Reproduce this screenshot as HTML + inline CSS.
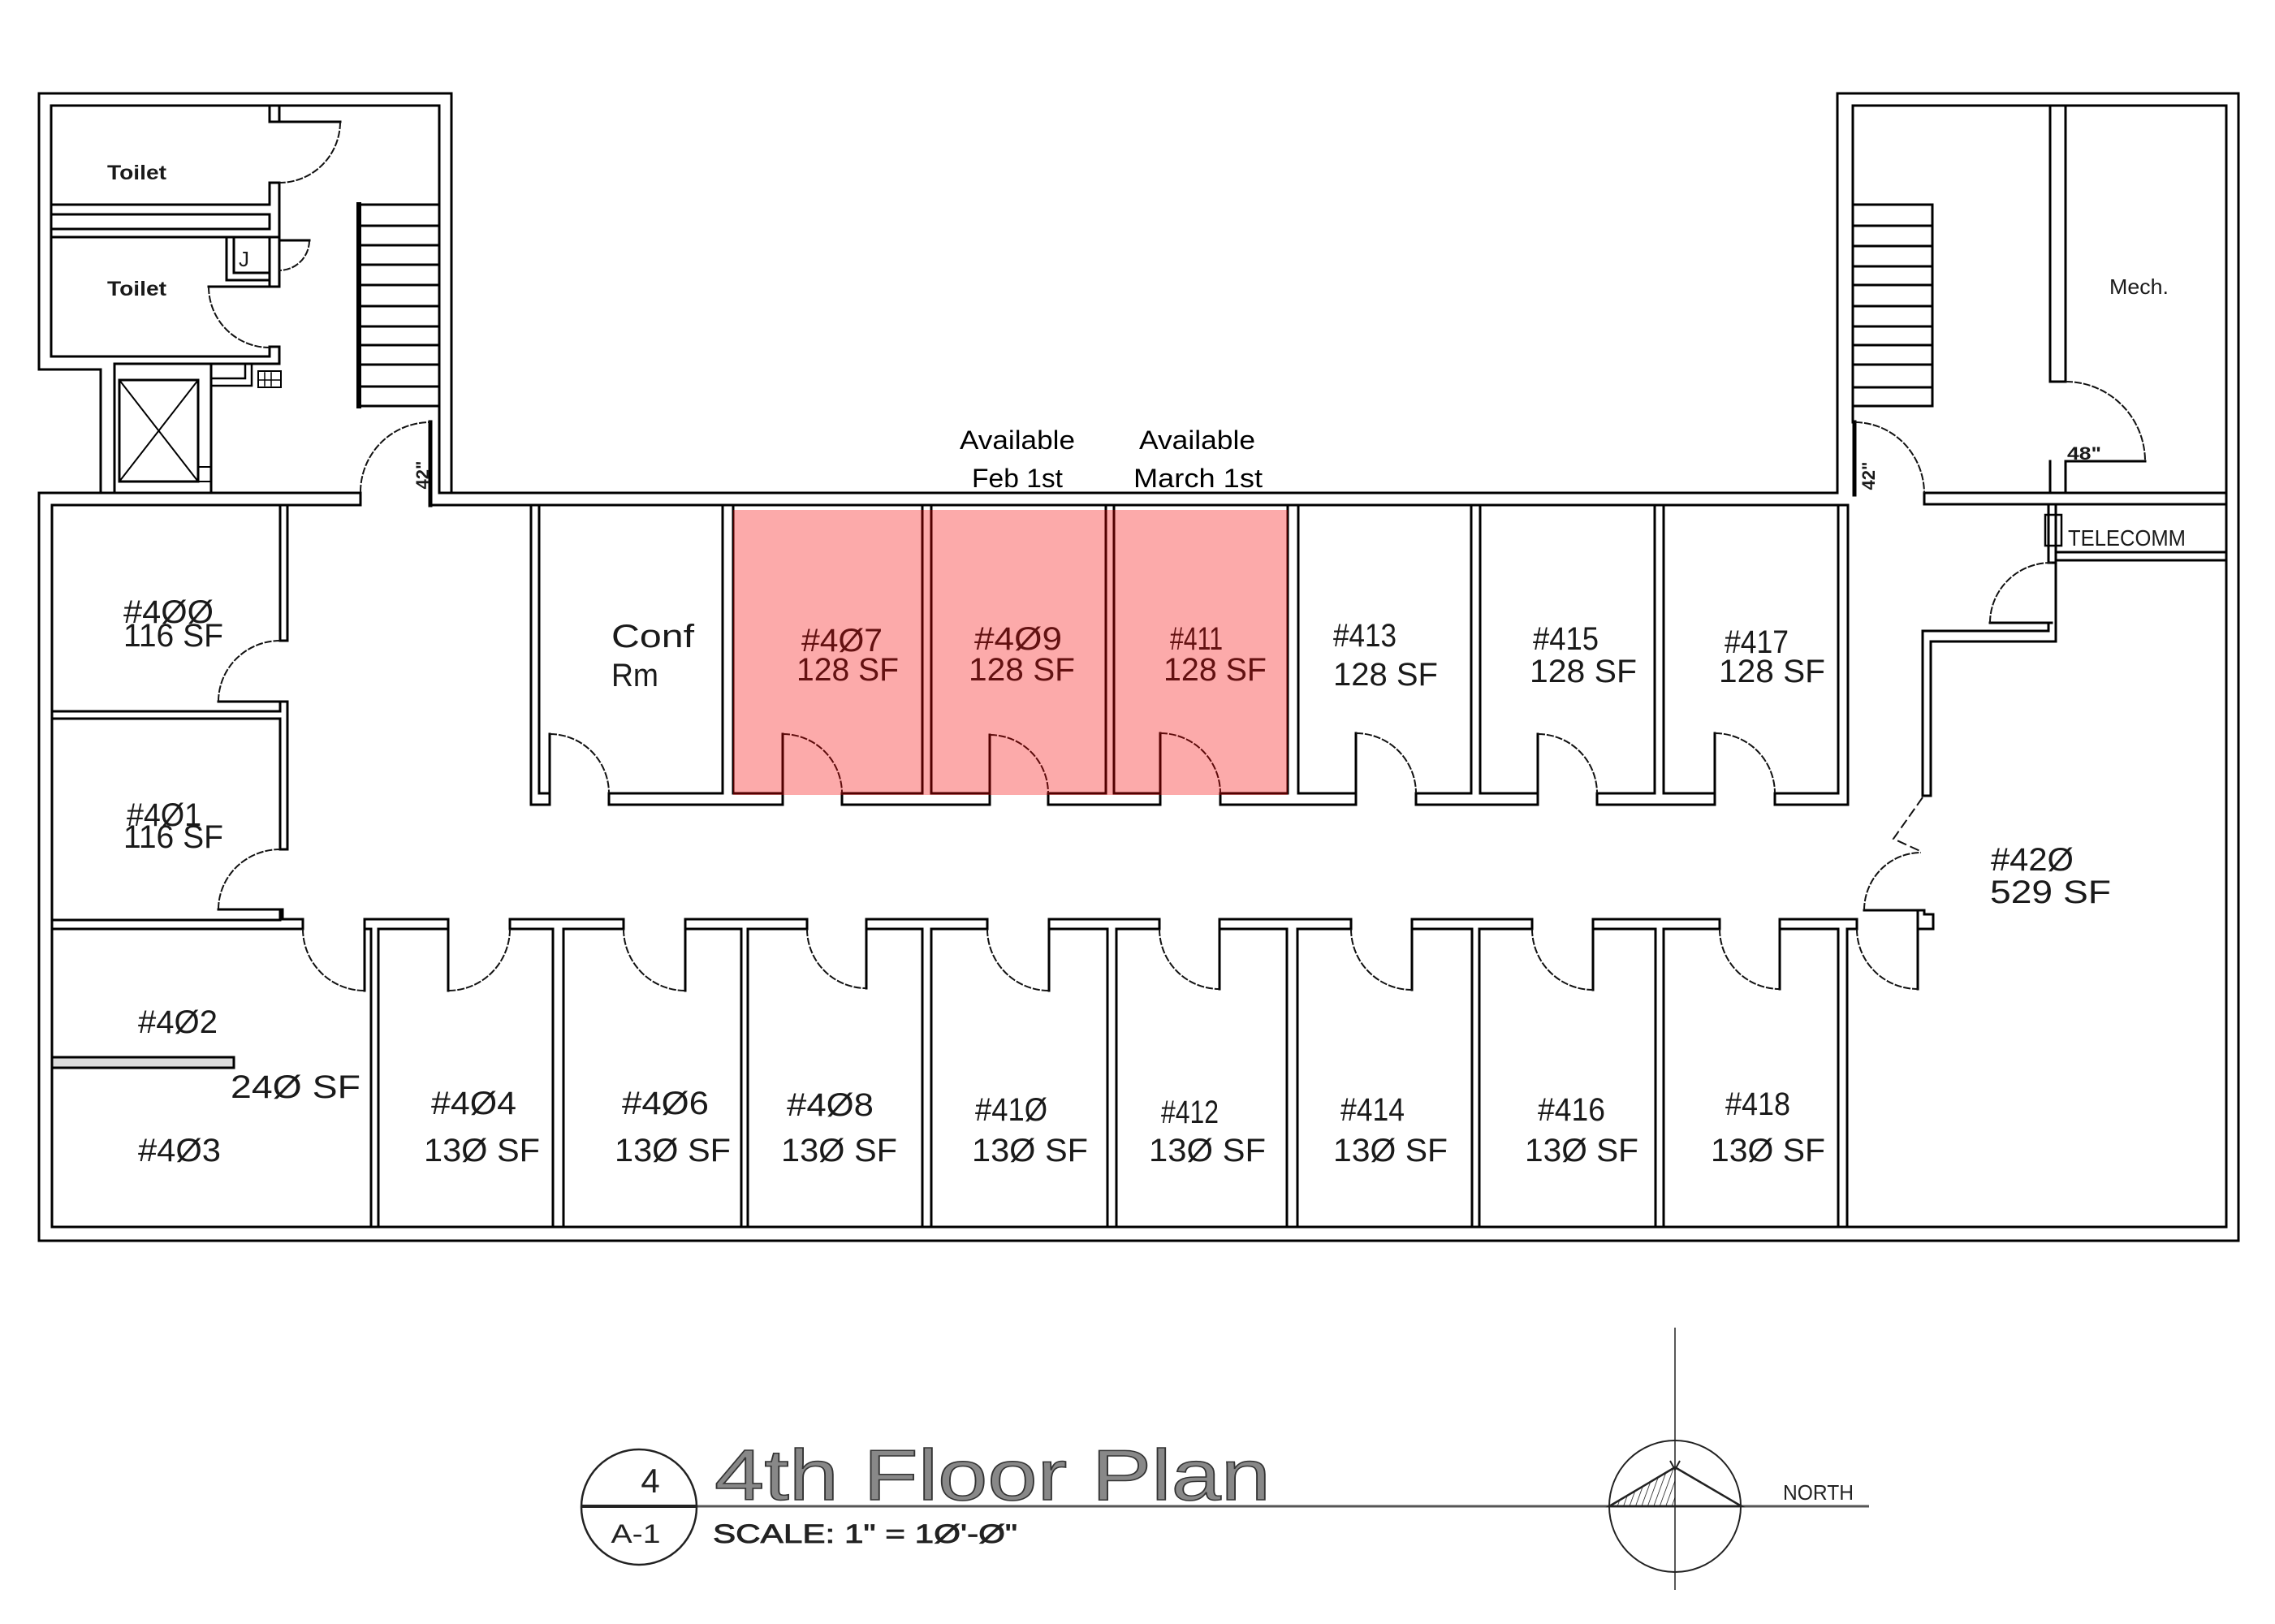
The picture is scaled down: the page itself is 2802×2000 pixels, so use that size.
<!DOCTYPE html>
<html>
<head>
<meta charset="utf-8">
<style>
html,body{margin:0;padding:0;background:#fff;}
svg{display:block;}
text{font-family:"Liberation Sans",sans-serif;}
</style>
</head>
<body>
<svg width="2802" height="2000" viewBox="0 0 2802 2000" xmlns="http://www.w3.org/2000/svg">
<defs>
<pattern id="hatch" patternUnits="userSpaceOnUse" width="7" height="7" patternTransform="rotate(20)">
<line x1="0" y1="0" x2="0" y2="7" stroke="#000" stroke-width="1.4"/>
</pattern>
</defs>
<rect width="2802" height="2000" fill="#fff"/>

<!-- WALLS -->
<g fill="none" stroke="#000" stroke-width="3" stroke-linecap="square">
<path d="M124,607 V455 H48 V115 H556 V607"/>
<path d="M63,130 H541 V607"/>
<path d="M63,130 V439 H332 V427"/>
<path d="M63,252 H332 V225"/>
<path d="M332,130 V150 M344,130 V150"/>
<path d="M332,150 H419"/>
<path d="M63,264 H332 V282 H63"/>
<path d="M344,225 V353 M332,225 H344"/>
<path d="M63,292 H344"/>
<path d="M279,292 V345 H332 M288,292 V336 H332"/>
<path d="M332,292 V353 H344"/>
<path d="M257,353 H332"/>
<path d="M332,427 H344 V448"/>
<path d="M344,296 H381"/>
<path d="M141,448 H344"/>
<path d="M141,448 V607 M260,448 V607"/>
<rect x="147" y="468" width="97" height="125"/>
<path d="M147,468 L244,593 M244,468 L147,593" stroke-width="2"/>
<rect x="244" y="575" width="16" height="18" stroke-width="2"/>
<path d="M262,466 H302 V450 M262,475 H310 V450" stroke-width="2.5"/>
<rect x="318" y="457" width="28" height="20" stroke-width="2"/>
<path d="M326,459 V475 M334,459 V475 M318,468 H346" stroke-width="1.5"/>
<rect x="442" y="252" width="99" height="248"/>
<path d="M442,252 V500" stroke-width="6"/>
<path d="M442,278 H541 M442,302 H541 M442,326 H541 M442,351 H541 M442,377 H541 M442,402 H541 M442,425 H541 M442,449 H541 M442,476 H541"/>

<path d="M48,607 H444 V622"/>
<path d="M541,607 H2263"/>
<path d="M48,607 V1528 H2757 V115 H2263 V607"/>
<path d="M64,622 H444"/>
<path d="M530,622 H2276"/>
<path d="M64,622 V1511 H2742 V130 H2282 V520"/>
<path d="M345,789 V622 M64,876 H345 V864"/>
<path d="M354,622 V789 H345"/>
<path d="M269,864 H354"/>
<path d="M354,864 V1046 H345"/>
<path d="M64,885 H345 V1046"/>
<path d="M64,1133 H345 V1120"/>
<path d="M269,1120 H348 V1132"/>
<path d="M654,622 V991"/>
<path d="M677,977 H664 V622 H890 V977 H750"/>
<path d="M964,977 H903 V622 H1136 V977 H1037"/>
<path d="M1219,977 H1147 V622 H1362 V977 H1291"/>
<path d="M1429,977 H1372 V622 H1586 V977 H1503"/>
<path d="M1670,977 H1599 V622 H1812 V977 H1744"/>
<path d="M1894,977 H1823 V622 H2038 V977 H1967"/>
<path d="M2112,977 H2049 V622 H2264 V977 H2186"/>
<path d="M2276,622 V991"/>
<path d="M654,991 H677 M750,991 H964 M1037,991 H1219 M1291,991 H1429 M1503,991 H1670 M1744,991 H1894 M1967,991 H2112 M2186,991 H2276"/>
<path d="M677,904 V991 M964,904 V991 M1219,905 V991 M1429,903 V991 M1670,903 V991 M1894,904 V991 M2112,903 V991"/>
<path d="M750,977 V991 M1037,977 V991 M1291,977 V991 M1503,977 V991 M1744,977 V991 M1967,977 V991 M2186,977 V991"/>
<path d="M373,1144 H64 V1511 H457 V1144 H449"/>
<rect x="64" y="1302" width="224" height="13" fill="#ddd"/>
<path d="M552,1144 H466 V1511 H681 V1144 H628"/>
<path d="M768,1144 H694 V1511 H913 V1144 H844"/>
<path d="M994,1144 H921 V1511 H1136 V1144 H1067"/>
<path d="M1216,1144 H1147 V1511 H1364 V1144 H1292"/>
<path d="M1428,1144 H1375 V1511 H1585 V1144 H1502"/>
<path d="M1664,1144 H1598 V1511 H1813 V1144 H1739"/>
<path d="M1887,1144 H1822 V1511 H2039 V1144 H1962"/>
<path d="M2118,1144 H2049 V1511 H2264 V1144 H2192"/>
<path d="M2287,1144 H2275 V1511"/>
<path d="M348,1132 H373 M449,1132 H552 M628,1132 H768 M844,1132 H994 M1067,1132 H1216 M1292,1132 H1428 M1502,1132 H1664 M1739,1132 H1887 M1962,1132 H2118 M2192,1132 H2287"/>
<path d="M373,1132 V1144 M628,1132 V1144 M768,1132 V1144 M994,1132 V1144 M1216,1132 V1144 M1428,1132 V1144 M1664,1132 V1144 M1887,1132 V1144 M2118,1132 V1144 M2287,1132 V1144"/>
<path d="M449,1132 V1220 M552,1132 V1220 M844,1132 V1220 M1067,1132 V1217 M1292,1132 V1220 M1502,1132 V1218 M1739,1132 V1219 M1962,1132 V1219 M2192,1132 V1218 M2362,1124 V1218"/>
<path d="M2368,777 V980 H2378 V790"/>
<path d="M2368,777 H2523 V767"/>
<path d="M2378,790 H2532 V691"/>
<path d="M2451,767 H2527"/>
<path d="M2523,621 V693 H2532 V621"/>
<rect x="2519" y="634" width="20" height="38" stroke-width="2.5"/>
<path d="M2532,680 H2742 M2532,690 H2742"/>
<path d="M2296,1121 H2370 V1126 H2381 V1144 H2362"/>
<path d="M2525,130 V470 H2544 V130"/>
<path d="M2525,568 V607 M2544,568 V607"/>
<path d="M2544,568 H2642"/>
<path d="M2370,607 H2742"/>
<path d="M2370,607 V621 H2742"/>
<rect x="2282" y="252" width="98" height="248"/>
<path d="M2282,278 H2380 M2282,303 H2380 M2282,328 H2380 M2282,351 H2380 M2282,377 H2380 M2282,402 H2380 M2282,425 H2380 M2282,449 H2380 M2282,477 H2380"/>
<path d="M530,520 V622" stroke-width="5"/>
<path d="M2284,520 V609" stroke-width="5"/>
</g>

<g fill="none" stroke="#111" stroke-width="2" stroke-dasharray="9 2">
<path d="M419,150 A75,75 0 0 1 344,225"/>
<path d="M257,353 A75,75 0 0 0 332,428"/>
<path d="M381,296 A37,37 0 0 1 344,333"/>
<path d="M444,606 A86,86 0 0 1 530,520"/>
<path d="M2285,520 A86,88 0 0 1 2370,607"/>
<path d="M2544,470 A98,98 0 0 1 2642,568"/>
<path d="M269,864 A76,75 0 0 1 345,789"/>
<path d="M269,1120 A76,74 0 0 1 345,1046"/>
<path d="M677,904 A73,73 0 0 1 750,977"/>
<path d="M964,904 A73,73 0 0 1 1037,977"/>
<path d="M1219,905 A72,72 0 0 1 1291,977"/>
<path d="M1429,903 A74,74 0 0 1 1503,977"/>
<path d="M1670,903 A74,74 0 0 1 1744,977"/>
<path d="M1894,904 A73,73 0 0 1 1967,977"/>
<path d="M2112,903 A74,74 0 0 1 2186,977"/>
<path d="M373,1144 A76,76 0 0 0 449,1220"/>
<path d="M628,1144 A76,76 0 0 1 552,1220"/>
<path d="M768,1144 A76,76 0 0 0 844,1220"/>
<path d="M994,1144 A73,73 0 0 0 1067,1217"/>
<path d="M1216,1144 A76,76 0 0 0 1292,1220"/>
<path d="M1428,1144 A74,74 0 0 0 1502,1218"/>
<path d="M1664,1144 A75,75 0 0 0 1739,1219"/>
<path d="M1887,1144 A75,75 0 0 0 1962,1219"/>
<path d="M2118,1144 A74,74 0 0 0 2192,1218"/>
<path d="M2287,1144 A75,74 0 0 0 2362,1218"/>
<path d="M2296,1121 A70,71 0 0 1 2366,1050"/>
<path d="M2451,767 A75,74 0 0 1 2527,693"/>
<path d="M2368,982 L2332,1033 L2367,1049" stroke-dasharray="12 5"/>
</g>

<g fill="#1a1a1a">
<text x="132" y="221" font-size="25" font-weight="bold" textLength="73" lengthAdjust="spacingAndGlyphs">Toilet</text>
<text x="132" y="364" font-size="25" font-weight="bold" textLength="73" lengthAdjust="spacingAndGlyphs">Toilet</text>
<text x="294" y="328" font-size="26">J</text>
<text x="2598" y="362" font-size="26" textLength="73" lengthAdjust="spacingAndGlyphs">Mech.</text>
<text x="2546" y="566" font-size="22" font-weight="bold" textLength="42" lengthAdjust="spacingAndGlyphs">48"</text>
<text transform="translate(528,585) rotate(-90)" text-anchor="middle" font-size="22" font-weight="bold">42"</text>
<text transform="translate(2309,586) rotate(-90)" text-anchor="middle" font-size="22" font-weight="bold">42"</text>
<text x="2547" y="672" font-size="28" textLength="145" lengthAdjust="spacingAndGlyphs">TELECOMM</text>

<g font-size="40">
<text x="152" y="767" textLength="111" lengthAdjust="spacingAndGlyphs">#4ØØ</text>
<text x="152" y="796" textLength="123" lengthAdjust="spacingAndGlyphs">116 SF</text>
<text x="156" y="1017" textLength="92" lengthAdjust="spacingAndGlyphs">#4Ø1</text>
<text x="152" y="1044" textLength="123" lengthAdjust="spacingAndGlyphs">116 SF</text>
<text x="170" y="1272" textLength="98" lengthAdjust="spacingAndGlyphs">#4Ø2</text>
<text x="284" y="1352" textLength="160" lengthAdjust="spacingAndGlyphs">24Ø SF</text>
<text x="170" y="1430" textLength="102" lengthAdjust="spacingAndGlyphs">#4Ø3</text>
<text x="531" y="1372" textLength="105" lengthAdjust="spacingAndGlyphs">#4Ø4</text>
<text x="522" y="1430" textLength="143" lengthAdjust="spacingAndGlyphs">13Ø SF</text>
<text x="766" y="1372" textLength="107" lengthAdjust="spacingAndGlyphs">#4Ø6</text>
<text x="757" y="1430" textLength="143" lengthAdjust="spacingAndGlyphs">13Ø SF</text>
<text x="969" y="1374" textLength="107" lengthAdjust="spacingAndGlyphs">#4Ø8</text>
<text x="962" y="1430" textLength="143" lengthAdjust="spacingAndGlyphs">13Ø SF</text>
<text x="1201" y="1380" textLength="89" lengthAdjust="spacingAndGlyphs">#41Ø</text>
<text x="1197" y="1430" textLength="143" lengthAdjust="spacingAndGlyphs">13Ø SF</text>
<text x="1430" y="1383" textLength="71" lengthAdjust="spacingAndGlyphs">#412</text>
<text x="1415" y="1430" textLength="144" lengthAdjust="spacingAndGlyphs">13Ø SF</text>
<text x="1651" y="1380" textLength="79" lengthAdjust="spacingAndGlyphs">#414</text>
<text x="1642" y="1430" textLength="141" lengthAdjust="spacingAndGlyphs">13Ø SF</text>
<text x="1894" y="1380" textLength="83" lengthAdjust="spacingAndGlyphs">#416</text>
<text x="1878" y="1430" textLength="140" lengthAdjust="spacingAndGlyphs">13Ø SF</text>
<text x="2125" y="1373" textLength="80" lengthAdjust="spacingAndGlyphs">#418</text>
<text x="2107" y="1430" textLength="141" lengthAdjust="spacingAndGlyphs">13Ø SF</text>
<text x="2452" y="1072" textLength="102" lengthAdjust="spacingAndGlyphs">#42Ø</text>
<text x="2451" y="1112" textLength="149" lengthAdjust="spacingAndGlyphs">529 SF</text>
<text x="753" y="797" textLength="102" lengthAdjust="spacingAndGlyphs">Conf</text>
<text x="753" y="845" textLength="58" lengthAdjust="spacingAndGlyphs">Rm</text>
<text x="987" y="802" textLength="100" lengthAdjust="spacingAndGlyphs">#4Ø7</text>
<text x="981" y="838" textLength="126" lengthAdjust="spacingAndGlyphs">128 SF</text>
<text x="1200" y="800" textLength="108" lengthAdjust="spacingAndGlyphs">#4Ø9</text>
<text x="1193" y="838" textLength="131" lengthAdjust="spacingAndGlyphs">128 SF</text>
<text x="1441" y="800" textLength="65" lengthAdjust="spacingAndGlyphs">#411</text>
<text x="1433" y="838" textLength="127" lengthAdjust="spacingAndGlyphs">128 SF</text>
<text x="1642" y="796" textLength="78" lengthAdjust="spacingAndGlyphs">#413</text>
<text x="1642" y="844" textLength="129" lengthAdjust="spacingAndGlyphs">128 SF</text>
<text x="1888" y="800" textLength="81" lengthAdjust="spacingAndGlyphs">#415</text>
<text x="1884" y="840" textLength="132" lengthAdjust="spacingAndGlyphs">128 SF</text>
<text x="2124" y="804" textLength="79" lengthAdjust="spacingAndGlyphs">#417</text>
<text x="2117" y="840" textLength="131" lengthAdjust="spacingAndGlyphs">128 SF</text>
</g>
</g>

<g fill="#000" font-size="32">
<text x="1182" y="553" textLength="142" lengthAdjust="spacingAndGlyphs">Available</text>
<text x="1197" y="600" textLength="112" lengthAdjust="spacingAndGlyphs">Feb 1st</text>
<text x="1403" y="553" textLength="143" lengthAdjust="spacingAndGlyphs">Available</text>
<text x="1396" y="600" textLength="159" lengthAdjust="spacingAndGlyphs">March 1st</text>
</g>

<rect x="903" y="628" width="683" height="351" fill="rgb(246,0,0)" fill-opacity="0.333"/>

<g fill="none" stroke="#222">
<path d="M716,1855 H2302" stroke="#555" stroke-width="3"/>
<path d="M716,1855 H858" stroke-width="4"/>
<circle cx="787" cy="1856" r="71" stroke-width="2.5"/>
<path d="M2063,1635 V1958" stroke-width="1.5"/>
<circle cx="2063" cy="1855" r="81" stroke-width="2"/>
<polygon points="1982,1855 2063,1807 2063,1855" fill="url(#hatch)" stroke="none"/>
<path d="M1982,1855 L2063,1807 L2145,1855 Z" stroke-width="2.5"/>
<path d="M2057,1799 L2063,1810 L2069,1799" stroke-width="2"/>
</g>
<g fill="#222">
<text x="801" y="1838" text-anchor="middle" font-size="42">4</text>
<text x="783" y="1900" text-anchor="middle" font-size="32" textLength="61" lengthAdjust="spacingAndGlyphs">A-1</text>
<text x="880" y="1847" font-size="88" fill="#888" stroke="#333" stroke-width="1.5" textLength="685" lengthAdjust="spacingAndGlyphs">4th Floor Plan</text>
<text x="878" y="1900" font-size="32" stroke="#222" stroke-width="0.8" textLength="375" lengthAdjust="spacingAndGlyphs">SCALE: 1" = 1Ø'-Ø"</text>
<text x="2196" y="1847" font-size="26" textLength="87" lengthAdjust="spacingAndGlyphs">NORTH</text>
</g>
</svg>
</body>
</html>
